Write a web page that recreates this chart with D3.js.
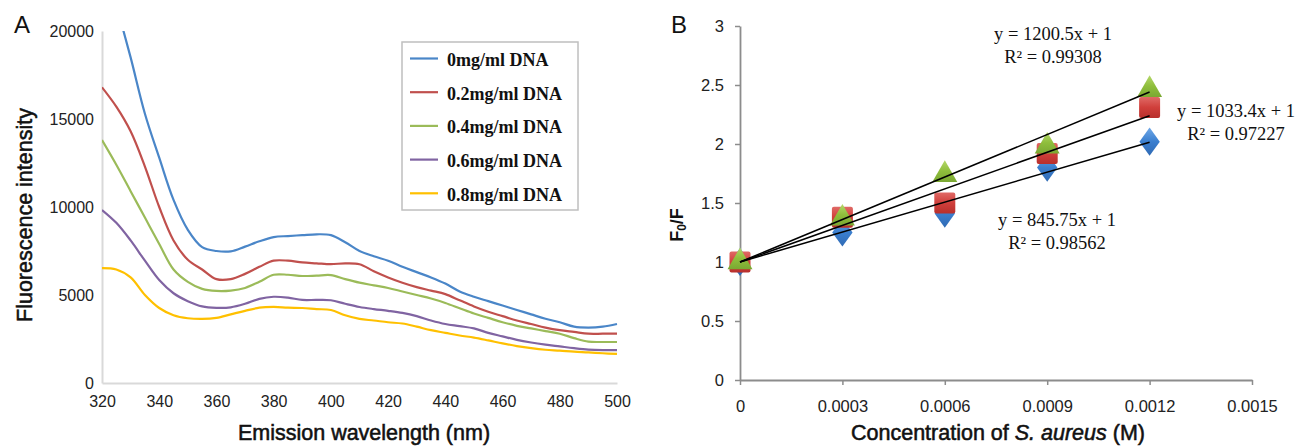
<!DOCTYPE html>
<html><head><meta charset="utf-8">
<script src="https://cdn.jsdelivr.net/npm/d3@7/dist/d3.min.js"></script>
<style>
html,body{margin:0;padding:0;background:#fff;}
svg{display:block;}
</style></head>
<body>
<svg id="chart" width="1300" height="447"></svg>
<script>
// ---------- Panel A data ----------
const wavelengths = [320,325,330,335,340,345,350,355,360,365,370,375,380,385,390,395,400,405,410,415,420,425,430,435,440,445,450,455,460,465,470,475,480,485,490,495,500];
const seriesNames = ["0mg/ml DNA","0.2mg/ml DNA","0.4mg/ml DNA","0.6mg/ml DNA","0.8mg/ml DNA"];
const seriesColors = ["#4a86c8","#c0504d","#9bbb59","#8064a2","#ffc000"];
const dna0  = [24500,21500,18500,15300,12800,10400,8700,7720,7500,7480,7750,8050,8290,8350,8400,8450,8400,8000,7500,7200,6950,6600,6300,6000,5650,5200,4900,4650,4400,4150,3900,3650,3450,3200,3150,3200,3350];
const dna02 = [16800,15700,14300,12300,10000,8100,7000,6450,5900,5900,6200,6600,6950,6950,6850,6800,6750,6800,6750,6350,6000,5700,5450,5250,5050,4700,4350,4050,3800,3550,3350,3150,3000,2900,2800,2800,2800];
const dna04 = [13800,12400,10900,9400,7900,6450,5750,5350,5230,5250,5400,5750,6150,6150,6080,6100,6130,5900,5700,5550,5400,5200,5000,4800,4550,4250,3950,3700,3450,3250,3100,2950,2800,2550,2350,2330,2330];
const dna06 = [9830,9100,8100,6950,5850,5100,4650,4350,4270,4300,4500,4780,4900,4850,4720,4720,4700,4500,4320,4200,4100,3980,3800,3550,3350,3230,3100,2850,2650,2450,2300,2180,2080,1980,1900,1870,1870];
const dna08 = [6530,6450,6000,5000,4260,3850,3680,3640,3700,3900,4100,4280,4320,4280,4260,4200,4150,3850,3640,3550,3450,3380,3200,3000,2850,2700,2580,2420,2250,2100,1980,1890,1840,1780,1740,1690,1650];
const seriesA = [dna0, dna02, dna04, dna06, dna08];
const xTicksA = [320,340,360,380,400,420,440,460,480,500];
const yTicksA = [0,5000,10000,15000,20000];

// ---------- Panel B data ----------
const concentrations = [0,0.0003,0.0006,0.0009,0.0012];
const fBlue  = [1.0,1.25,1.41,1.80,2.02];
const fRed   = [1.0,1.38,1.50,1.92,2.31];
const fGreen = [1.0,1.37,1.74,1.98,2.46];
const slopes = [845.75,1033.4,1200.5];
const intercept = 1;
const eqLabels = ["y = 845.75x + 1","y = 1033.4x + 1","y = 1200.5x + 1"];
const r2Labels = ["R² = 0.98562","R² = 0.97227","R² = 0.99308"];
const xTicksB = [0,0.0003,0.0006,0.0009,0.0012,0.0015];
const xTickLabelsB = ["0","0.0003","0.0006","0.0009","0.0012","0.0015"];
const yTicksB = [0,0.5,1,1.5,2,2.5,3];
const yTickLabelsB = ["0","0.5","1","1.5","2","2.5","3"];

const svg = d3.select("#chart");
const sans = "'Liberation Sans', Arial, sans-serif";
const serif = "'Liberation Serif', 'Times New Roman', serif";

function heavy(sel){
  return sel.attr("font-family",sans).attr("font-size",21.5).attr("fill","#111")
    .attr("stroke","#111").attr("stroke-width",0.55);
}

// ================= Panel A =================
const xA = d3.scaleLinear().domain([320,500]).range([102,617]);
const yA = d3.scaleLinear().domain([0,20000]).range([383,31]);

const gA = svg.append("g");
gA.append("clipPath").attr("id","clipA").append("rect")
  .attr("x",102).attr("y",31).attr("width",520).attr("height",352);

const axAx = gA.append("g").attr("transform","translate(0,383)")
  .call(d3.axisBottom(xA).tickValues(xTicksA).tickSize(0).tickPadding(13).tickFormat(d3.format("d")));
const axAy = gA.append("g").attr("transform","translate(102,0)")
  .call(d3.axisLeft(yA).tickValues(yTicksA).tickSize(0).tickPadding(8).tickFormat(d3.format("d")));
[axAx, axAy].forEach(a => {
  a.select(".domain").attr("stroke","#d9d9d9").attr("stroke-width",2);
  a.selectAll("text").attr("font-family",sans).attr("font-size",16).attr("fill","#222");
});

const lineA = d3.line().x((d,i)=>xA(wavelengths[i])).y(d=>yA(d)).curve(d3.curveCatmullRom.alpha(0.5));
const linesG = gA.append("g").attr("clip-path","url(#clipA)");
seriesA.forEach((s,k)=>{
  linesG.append("path").datum(s).attr("d",lineA)
    .attr("fill","none").attr("stroke",seriesColors[k]).attr("stroke-width",2.2);
});

// legend
const leg = gA.append("g");
leg.append("rect").attr("x",402).attr("y",42).attr("width",176).attr("height",168)
  .attr("fill","#fff").attr("stroke","#bfbfbf").attr("stroke-width",1.5);
seriesNames.forEach((n,k)=>{
  const yy = 58.5 + k*33.7;
  leg.append("line").attr("x1",410).attr("x2",438).attr("y1",yy).attr("y2",yy)
    .attr("stroke",seriesColors[k]).attr("stroke-width",2.2);
  leg.append("text").attr("x",447).attr("y",yy+7.5).text(n)
    .attr("font-family",serif).attr("font-weight","bold").attr("font-size",18).attr("fill","#111");
});

gA.append("text").attr("x",14).attr("y",33).text("A")
  .attr("font-family",sans).attr("font-size",24).attr("fill","#111");
heavy(gA.append("text").attr("x",364).attr("y",440).attr("text-anchor","middle")
  .text("Emission wavelength (nm)"));
heavy(gA.append("text").attr("transform","translate(32,215) rotate(-90)").attr("text-anchor","middle")
  .text("Fluorescence intensity"));

// ================= Panel B =================
const xB = d3.scaleLinear().domain([0,0.0015]).range([740,1252]);
const yB = d3.scaleLinear().domain([0,3]).range([380,26]);
const gB = svg.append("g");

const axBx = gB.append("g").attr("transform","translate(0,380)")
  .call(d3.axisBottom(xB).tickValues(xTicksB).tickSizeOuter(0).tickSizeInner(5).tickPadding(15)
        .tickFormat((d,i)=>xTickLabelsB[i]));
const axBy = gB.append("g").attr("transform","translate(740,0)")
  .call(d3.axisLeft(yB).tickValues(yTicksB).tickSizeOuter(0).tickSizeInner(5).tickPadding(11)
        .tickFormat((d,i)=>yTickLabelsB[i]));
[axBx, axBy].forEach(a => {
  a.select(".domain").attr("stroke","#8c8c8c").attr("stroke-width",1.8);
  a.selectAll(".tick line").attr("stroke","#8c8c8c").attr("stroke-width",1.5);
  a.selectAll("text").attr("font-family",sans).attr("font-size",16.5).attr("fill","#222");
});

const defs = svg.append("defs");
function grad(id, light, mid, dark){
  const g = defs.append("linearGradient").attr("id",id).attr("x1",0).attr("y1",0).attr("x2",0).attr("y2",1);
  g.append("stop").attr("offset","0%").attr("stop-color",light);
  g.append("stop").attr("offset","50%").attr("stop-color",mid);
  g.append("stop").attr("offset","100%").attr("stop-color",dark);
}
grad("gBlue","#6fa8e8","#3b7fcf","#2f6ab4");
grad("gRed","#e06a66","#d03f3b","#b8302d");
grad("gGreen","#b5d86a","#8fbe3c","#7aa832");

const markers = gB.append("g");
const diamond = d3.symbol().type(d3.symbolDiamond).size(230);
const triangle = d3.symbol().type(d3.symbolTriangle).size(270);
markers.selectAll(".dB").data(fBlue).enter().append("path")
  .attr("d",diamond).attr("transform",(d,i)=>`translate(${xB(concentrations[i])},${yB(d)}) scale(1.25,1)`)
  .attr("fill","url(#gBlue)");
markers.selectAll(".dR").data(fRed).enter().append("rect")
  .attr("x",(d,i)=>xB(concentrations[i])-10.5).attr("y",d=>yB(d)-10.5)
  .attr("width",21).attr("height",21).attr("rx",2)
  .attr("fill","url(#gRed)");
markers.selectAll(".dG").data(fGreen).enter().append("path")
  .attr("d",triangle).attr("transform",(d,i)=>`translate(${xB(concentrations[i])},${yB(d)})`)
  .attr("fill","url(#gGreen)");

const fitG = gB.append("g");
slopes.forEach(s=>{
  const pts = [0,0.0012].map(x=>[x, s*x+intercept]);
  fitG.append("path").datum(pts)
    .attr("d", d3.line().x(d=>xB(d[0])).y(d=>yB(d[1])))
    .attr("stroke","#000").attr("stroke-width",1.5).attr("fill","none");
});

const ann = gB.append("g").attr("font-family",serif).attr("font-size",18.5).attr("fill","#111");
const annPos = [[1057,226],[1236,117],[1053,40]];
slopes.forEach((s,k)=>{
  const p = annPos[k];
  ann.append("text").attr("x",p[0]).attr("y",p[1]).attr("text-anchor","middle").text(eqLabels[k]);
  ann.append("text").attr("x",p[0]).attr("y",p[1]+23).attr("text-anchor","middle").text(r2Labels[k]);
});

gB.append("text").attr("x",671).attr("y",33).text("B")
  .attr("font-family",sans).attr("font-size",24).attr("fill","#111");

const yt = gB.append("text").attr("transform","translate(683,225) rotate(-90)").attr("text-anchor","middle")
  .attr("font-family",sans).attr("font-weight","bold").attr("font-size",18).attr("fill","#111");
yt.append("tspan").text("F");
yt.append("tspan").text("0").attr("font-size",12).attr("baseline-shift","-25%");
yt.append("tspan").text("/F");

const xt = heavy(gB.append("text").attr("x",998).attr("y",440).attr("text-anchor","middle"));
xt.append("tspan").text("Concentration of ");
xt.append("tspan").text("S. aureus").attr("font-style","italic");
xt.append("tspan").text(" (M)");
</script>
</body></html>
